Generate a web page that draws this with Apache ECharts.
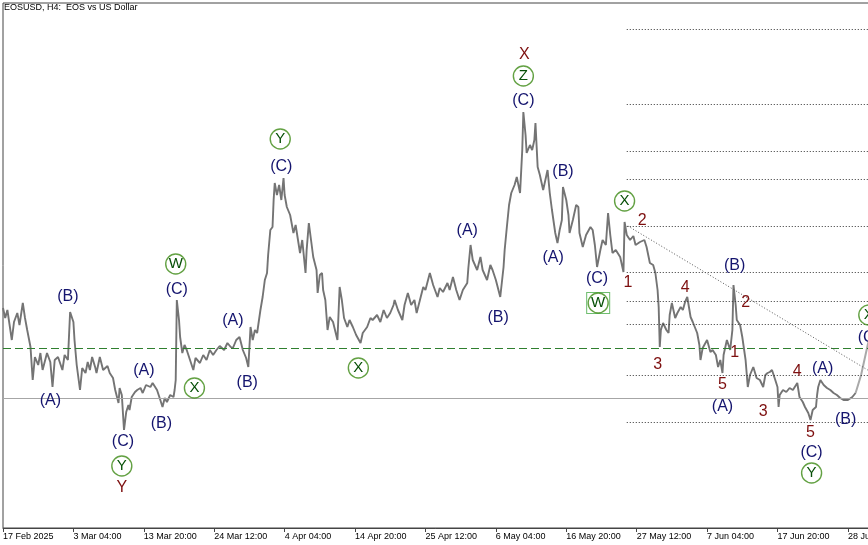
<!DOCTYPE html>
<html>
<head>
<meta charset="utf-8">
<script src="https://cdn.jsdelivr.net/npm/echarts/dist/echarts.min.js"></script>
<style>
html,body{margin:0;padding:0;background:#fff;}
#c{width:868px;height:545px;}
</style>
</head>
<body>
<div id="c"></div>
<script>
// ---- data (x = H4 bar index from 17 Feb 2025, y = price) ----
const tickLabels = ['17 Feb 2025','3 Mar 04:00','13 Mar 20:00','24 Mar 12:00','4 Apr 04:00','14 Apr 20:00','25 Apr 12:00','6 May 04:00','16 May 20:00','27 May 12:00','7 Jun 04:00','17 Jun 20:00','28 Jun 12:00'];
const tickStep = 64;

const pricePath = [
[0,0.620],[2,0.610],[4,0.618],[6,0.603],[8,0.588],[10,0.606],[13,0.615],[15,0.603],[18,0.625],[20,0.610],
[22,0.598],[25,0.581],[27,0.548],[29,0.571],[32,0.563],[34,0.575],[36,0.558],[40,0.575],[43,0.566],[45,0.541],
[47,0.568],[50,0.571],[54,0.558],[56,0.573],[59,0.568],[61,0.616],[64,0.606],[65,0.588],[67,0.563],[70,0.538],
[72,0.560],[75,0.555],[77,0.566],[79,0.558],[81,0.571],[84,0.560],[85,0.555],[88,0.571],[91,0.558],[95,0.562],
[97,0.555],[100,0.550],[102,0.538],[105,0.525],[106,0.540],[108,0.533],[110,0.498],[112,0.516],[114,0.523],[115,0.518],
[117,0.531],[120,0.536],[122,0.538],[125,0.540],[127,0.535],[130,0.543],[134,0.541],[136,0.545],[140,0.538],[143,0.528],
[145,0.521],[147,0.530],[149,0.526],[152,0.533],[155,0.531],[156,0.538],[157,0.548],[158,0.628],[160,0.608],[161,0.591],
[163,0.575],[165,0.583],[167,0.578],[170,0.568],[173,0.558],[175,0.570],[179,0.565],[182,0.573],[185,0.568],[188,0.578],
[191,0.573],[194,0.578],[197,0.582],[201,0.578],[204,0.585],[207,0.581],[209,0.580],[212,0.588],[215,0.591],[218,0.578],
[221,0.570],[223,0.561],[225,0.601],[227,0.588],[229,0.598],[231,0.595],[234,0.618],[236,0.631],[238,0.648],[240,0.655],
[241,0.673],[243,0.698],[245,0.701],[246,0.728],[247,0.745],[249,0.733],[251,0.743],[253,0.728],[255,0.750],[256,0.733],
[258,0.721],[261,0.713],[264,0.695],[266,0.703],[270,0.675],[272,0.688],[275,0.655],[276,0.678],[278,0.705],[280,0.688],
[282,0.671],[285,0.658],[286,0.635],[288,0.653],[290,0.655],[291,0.638],[293,0.628],[295,0.598],[297,0.611],[300,0.606],
[304,0.588],[306,0.641],[308,0.628],[310,0.610],[313,0.601],[315,0.608],[318,0.601],[321,0.593],[325,0.585],[327,0.595],
[331,0.601],[334,0.610],[336,0.608],[340,0.613],[343,0.606],[346,0.618],[349,0.610],[352,0.615],[355,0.623],[356,0.628],
[359,0.618],[363,0.608],[365,0.623],[368,0.635],[371,0.623],[374,0.628],[376,0.615],[379,0.628],[382,0.641],[384,0.638],
[388,0.655],[391,0.643],[395,0.631],[397,0.640],[400,0.636],[404,0.645],[406,0.638],[409,0.651],[412,0.638],[415,0.628],
[418,0.638],[422,0.645],[423,0.660],[425,0.683],[427,0.668],[431,0.658],[434,0.671],[436,0.658],[440,0.648],[443,0.663],
[445,0.658],[448,0.648],[452,0.631],[455,0.661],[456,0.678],[458,0.701],[460,0.723],[462,0.735],[465,0.743],[467,0.751],
[470,0.735],[472,0.778],[473,0.816],[475,0.793],[476,0.775],[479,0.783],[481,0.778],[483,0.788],[484,0.805],[486,0.761],
[488,0.753],[491,0.738],[493,0.748],[495,0.758],[497,0.735],[499,0.718],[502,0.695],[504,0.685],[506,0.698],[508,0.708],
[509,0.741],[512,0.728],[514,0.713],[515,0.695],[518,0.708],[521,0.723],[523,0.721],[524,0.695],[527,0.681],[530,0.693],
[534,0.701],[536,0.698],[538,0.683],[540,0.661],[543,0.678],[545,0.688],[548,0.683],[550,0.715],[552,0.693],[554,0.675],
[557,0.678],[561,0.671],[564,0.656],[565,0.706],[567,0.693],[570,0.688],[573,0.692],[575,0.683],[579,0.686],[583,0.688],
[585,0.681],[588,0.665],[591,0.663],[593,0.655],[595,0.638],[596,0.621],[597,0.581],[598,0.598],[600,0.605],[603,0.598],
[605,0.595],[606,0.613],[608,0.625],[611,0.610],[613,0.615],[616,0.621],[618,0.618],[620,0.626],[622,0.631],[625,0.611],
[627,0.606],[631,0.595],[633,0.583],[634,0.568],[636,0.580],[640,0.588],[643,0.576],[645,0.578],[648,0.573],[650,0.561],
[652,0.568],[654,0.555],[655,0.573],[658,0.588],[661,0.578],[663,0.598],[664,0.643],[666,0.623],[667,0.608],[670,0.603],
[672,0.591],[675,0.568],[677,0.541],[679,0.553],[682,0.561],[685,0.550],[688,0.548],[691,0.541],[693,0.553],[695,0.555],
[697,0.556],[699,0.558],[702,0.548],[704,0.541],[705,0.521],[706,0.533],[709,0.538],[712,0.536],[715,0.540],[718,0.538],
[722,0.545],[724,0.531],[727,0.526],[729,0.521],[732,0.515],[734,0.508],[736,0.518],[739,0.521],[740,0.533],[741,0.541],
[743,0.548],[746,0.543],[749,0.540],[752,0.538],[755,0.535],[758,0.533],[761,0.530],[764,0.528],[765,0.526],[768,0.528],
[772,0.531],[775,0.535]
];
const projectionPath = [[775,0.535],[780,0.553],[786,0.583],[792,0.608]];

const currentPrice = 0.531;
const dashedLevel = 0.581;
const fibStart = 567;
const fibLevels = [0.899,0.824,0.777,0.749,0.702,0.656,0.627,0.604,0.553,0.506];
const trendLine = [[568,0.702],[786,0.558]];

const navyLabels = [
[43,0.527,'(A)'],[59,0.631,'(B)'],[109,0.486,'(C)'],[128,0.557,'(A)'],[144,0.504,'(B)'],[158,0.638,'(C)'],
[209,0.607,'(A)'],[222,0.545,'(B)'],[253,0.761,'(C)'],[422,0.697,'(A)'],[450,0.610,'(B)'],[473,0.827,'(C)'],
[509,0.756,'(B)'],[500,0.670,'(A)'],[540,0.649,'(C)'],[665,0.662,'(B)'],[654,0.521,'(A)'],[745,0.559,'(A)'],
[735,0.475,'(C)'],[766,0.508,'(B)'],[787,0.590,'(C)']
];
const redLabels = [
[108,0.440,'Y'],[474,0.873,'X'],[581,0.707,'2'],[568,0.645,'1'],[595,0.563,'3'],[620,0.640,'4'],
[675,0.625,'2'],[665,0.575,'1'],[654,0.543,'5'],[691,0.516,'3'],[722,0.556,'4'],[734,0.495,'5']
];
const circledLabels = [
[108,0.462,'Y'],[157,0.664,'W'],[174,0.540,'X'],[252,0.789,'Y'],[323,0.560,'X'],[473,0.852,'Z'],
[541,0.625,'W'],[565,0.727,'X'],[735,0.455,'Y'],[787,0.613,'X']
];
const boxedLabels = [[541,0.625]];

// ---- chart ----
const FONT = '"Liberation Sans", Arial, sans-serif';
const chart = echarts.init(document.getElementById('c'));

function textSeries(list, color, size) {
  return {
    type: 'scatter', silent: true, clip: false, z: 6,
    data: list, symbol: 'circle', symbolSize: 1,
    itemStyle: { color: 'rgba(0,0,0,0)' },
    label: { show: true, position: 'inside', color: color, fontSize: size, fontFamily: FONT,
      textBorderWidth: 0, textShadowBlur: 0, opacity: 1,
      formatter: p => p.value[2] },
    emphasis: { disabled: true }
  };
}

const option = {
  animation: false,
  backgroundColor: '#ffffff',
  grid: { left: 3, right: -3, top: 3, bottom: 17, show: true, borderColor: '#444', borderWidth: 1,
    containLabel: false, outerBoundsMode: 'none' },
  graphic: [{
    type: 'text', left: 4, top: 3, z: 10,
    style: { text: 'EOSUSD, H4:  EOS vs US Dollar', fill: '#000', font: '9px ' + FONT }
  }],
  xAxis: {
    type: 'value', min: 0, max: 789, interval: tickStep,
    axisLine: { show: true, lineStyle: { color: '#444', width: 1 } },
    axisTick: { show: true, length: 4, lineStyle: { color: '#444' } },
    splitLine: { show: false },
    axisLabel: {
      show: true, align: 'left', margin: 4, color: '#000', fontSize: 9, fontFamily: FONT,
      showMaxLabel: true, hideOverlap: false,
      formatter: v => { const i = Math.round(v / tickStep); return (v % tickStep === 0 && tickLabels[i]) ? tickLabels[i] : ''; }
    }
  },
  yAxis: {
    type: 'value', min: 0.400, max: 0.925, show: false, splitLine: { show: false }
  },
  series: [
    {
      type: 'line', data: pricePath, showSymbol: false, symbol: 'none', silent: true, z: 3,
      lineStyle: { color: '#747474', width: 1.9 },
      markLine: {
        silent: true, symbol: 'none', label: { show: false }, animation: false,
        data: [
          { yAxis: currentPrice, lineStyle: { color: '#a6a6a6', width: 1, type: 'solid' } },
          { yAxis: dashedLevel, lineStyle: { color: '#2f7f2f', width: 1, type: [8, 4] } }
        ].concat(fibLevels.map(v => [
          { coord: [fibStart, v], lineStyle: { color: '#333', width: 1, type: [1, 2] } },
          { coord: [789, v] }
        ])).concat([[
          { coord: trendLine[0], lineStyle: { color: '#555', width: 1, type: [1, 2] } },
          { coord: trendLine[1] }
        ]])
      }
    },
    {
      type: 'line', data: projectionPath, showSymbol: false, symbol: 'none', silent: true, z: 3,
      lineStyle: { color: '#a9a9a9', width: 2 }
    },
    {
      type: 'scatter', silent: true, clip: false, z: 5,
      data: boxedLabels, symbol: 'rect', symbolSize: [23, 21],
      itemStyle: { color: 'rgba(255,255,255,0)', borderColor: '#4cae4c', borderWidth: 1 },
      emphasis: { disabled: true }
    },
    {
      type: 'scatter', silent: true, clip: false, z: 6,
      data: circledLabels, symbol: 'circle', symbolSize: 20,
      itemStyle: { color: 'rgba(255,255,255,0)', borderColor: '#3c8a14', borderWidth: 1.4 },
      label: { show: true, position: 'inside', color: '#064f06', fontSize: 15, fontFamily: FONT,
        textBorderWidth: 0, textShadowBlur: 0, opacity: 1, formatter: p => p.value[2] },
      emphasis: { disabled: true }
    },
    textSeries(navyLabels, '#14146e', 16),
    textSeries(redLabels, '#7d0f0f', 16)
  ]
};
chart.setOption(option);
</script>
</body>
</html>
